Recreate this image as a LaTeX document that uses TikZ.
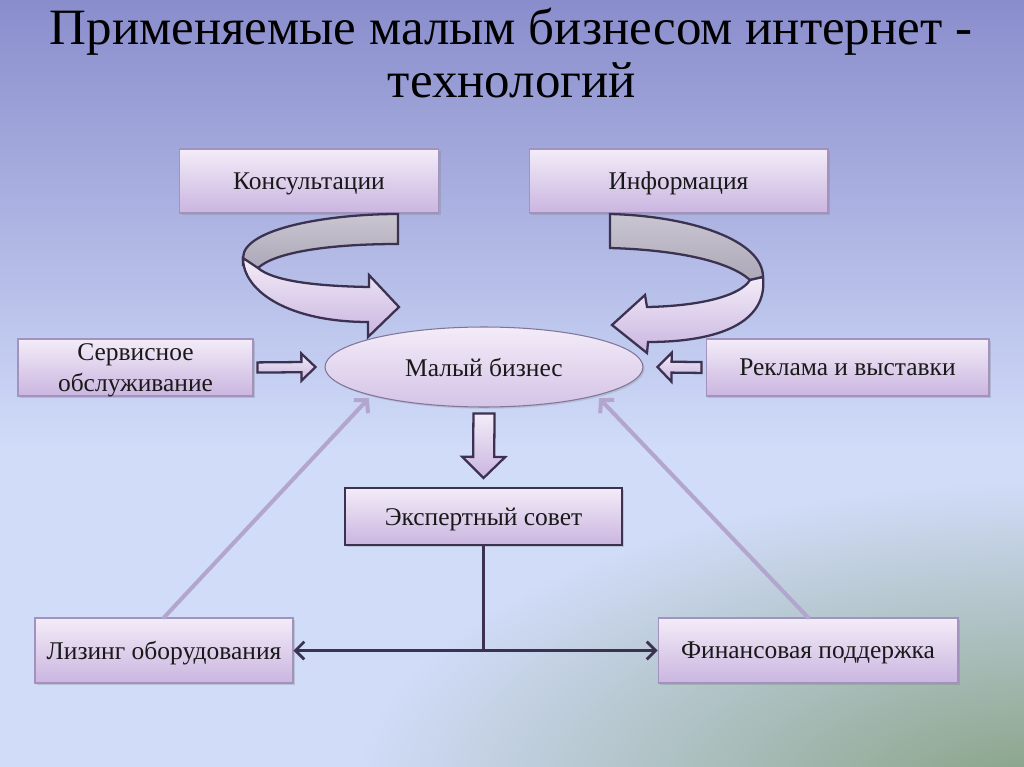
\documentclass[tikz,border=0pt]{standalone}
\usepackage{fontspec}
\setmainfont{Liberation Serif}
\usetikzlibrary{calc,shapes.geometric,shadows,arrows.meta}
\definecolor{bgtop}{HTML}{8A8DCC}
\definecolor{bgmid}{HTML}{D1DCF9}
\definecolor{bggreen}{HTML}{84A080}
\definecolor{boxtop}{HTML}{F3ECF8}
\definecolor{boxbot}{HTML}{CAB5E0}
\definecolor{boxline}{HTML}{A193BE}
\definecolor{darkline}{HTML}{3B3150}
\definecolor{liteline}{HTML}{B3A6CE}
\definecolor{ribgraytop}{HTML}{C9C5D1}
\definecolor{ribgraybot}{HTML}{ADA8B7}
\tikzset{
  x=0.02cm, y=-0.02cm,
  boxtext/.style={font=\fontsize{14.5}{17.5}\selectfont, text=black!90},
  box/.style={rectangle, top color=boxtop, bottom color=boxbot, draw=boxline,
    line width=0.6pt, inner sep=0pt, align=center, boxtext, text depth=0pt,
    drop shadow={opacity=0.3, shadow xshift=1.2pt, shadow yshift=-1.2pt}},
  darkbox/.style={box, draw=darkline, line width=1.1pt},
  oval/.style={ellipse, top color=boxtop, bottom color=boxbot!80!white, draw=boxline!80!black,
    line width=0.6pt, inner sep=0pt, boxtext, text depth=0pt,
    drop shadow={opacity=0.25, shadow xshift=1pt, shadow yshift=-1pt}},
  blk/.style={top color=boxtop, bottom color=boxbot, draw=darkline, line width=1.3pt, line join=miter},
  ribfront/.style={top color=boxtop, bottom color=boxbot, draw=darkline, line width=1.3pt, line join=miter},
  ribback/.style={top color=ribgraytop, bottom color=ribgraybot, draw=darkline, line width=1.3pt, line join=miter},
  lite/.style={draw=liteline, line width=2.3pt, line cap=round,
    -{Straight Barb[length=5pt,width=11pt]}, shorten >=2pt},
  darkconn/.style={draw=darkline, line width=1.6pt},
  titletext/.style={font=\fontsize{29}{34}\selectfont, text=black, anchor=base},
}
\newcommand\blockarrow[5]{%
  \coordinate (hb) at ($(#2)!#5!(#1)$);
  \draw[blk] ($(#1)!#3!90:(#2)$) -- ($(hb)!#3!90:(#2)$) -- ($(hb)!#4!90:(#2)$) -- (#2)
    -- ($(hb)!#4!-90:(#2)$) -- ($(hb)!#3!-90:(#2)$) -- ($(#1)!#3!-90:(#2)$) -- cycle;}
\begin{document}
\begin{tikzpicture}
\useasboundingbox (0,0) rectangle (1024,767);
% background
\begin{scope}
  \clip (0,0) rectangle (1024,767);
  \fill[bgmid] (0,0) rectangle (1024,767);
  \shade[top color=bgtop, bottom color=bgmid] (0,0) rectangle (1024,450);
  \shade[inner color=bggreen, outer color=bgmid] (1050,800) ellipse [x radius=700, y radius=320];
\end{scope}

% title
\node[titletext] (title1) at (511,45) {Применяемые малым бизнесом интернет -};
\node[titletext] (title2) at (512,98) {технологий};

% nodes
\node[box, minimum width=5.18cm, minimum height=1.28cm] (kons) at (309,181) {Консультации};
\node[box, minimum width=5.98cm, minimum height=1.28cm] (info) at (678.5,181) {Информация};
\node[box, minimum width=4.7cm, minimum height=1.14cm] (serv) at (135.5,367.5) {Сервисное\\обслуживание};
\node[box, minimum width=5.66cm, minimum height=1.14cm] (rekl) at (847.5,367.5) {Реклама и выставки};
\node[oval, minimum width=6.36cm, minimum height=1.6cm] (ell) at (484,367) {Малый бизнес};
\node[darkbox, minimum width=5.54cm, minimum height=1.14cm] (exp) at (483.5,516.5) {Экспертный совет};
\node[box, minimum width=5.16cm, minimum height=1.3cm] (lease) at (164,650.5) {Лизинг оборудования};
\node[box, minimum width=6.0cm, minimum height=1.3cm] (fin) at (808,650.5) {Финансовая поддержка};

% curved ribbon arrows
\draw[ribback] (398,214) .. controls (330,214) and (243,228) .. (243,258) -- (243,265) -- (258,268)
  .. controls (275,252) and (330,244) .. (398,244) -- cycle;
\draw[ribfront] (243,258) .. controls (243,292) and (290,322) .. (368,322) -- (368,337) -- (399,307)
  -- (369,275) -- (369,287) .. controls (310,286) and (272,280) .. (258,268) -- cycle;

\draw[ribback] (610,214) .. controls (690,216) and (763,240) .. (763,277) -- (750,280)
  .. controls (730,262) and (680,250) .. (610,248) -- cycle;
\draw[ribfront] (763,277) .. controls (768,322) and (720,342) .. (648,342) -- (647,353) -- (612,325)
  -- (645,295) -- (647,307) .. controls (700,306) and (740,296) .. (750,280) -- cycle;

% block arrows
\coordinate (a1s) at ($(serv.east)+(4,0)$);
\coordinate (a1e) at ($(ell.west)+(-9,0)$);
\blockarrow{a1s}{a1e}{2.9pt}{7.7pt}{8pt}
\coordinate (a2s) at ($(rekl.west)+(-4,0)$);
\coordinate (a2e) at ($(ell.east)+(14,0)$);
\blockarrow{a2s}{a2e}{3.1pt}{8.2pt}{8pt}
\coordinate (a3s) at ($(ell.south)+(0,6)$);
\coordinate (a3e) at ($(exp.north)+(0,-9)$);
\blockarrow{a3s}{a3e}{6pt}{12.2pt}{12pt}

% light connectors
\draw[lite] (lease.north) -- (ell.south west);
\draw[lite] (fin.north) -- (ell.south east);

% dark connectors
\draw[darkconn] (exp.south) -- (exp.south |- lease.east);
\draw[darkconn, {Straight Barb[length=5pt,width=10pt]}-{Straight Barb[length=5pt,width=10pt]}]
  (lease.east) -- (fin.west);
\end{tikzpicture}
\end{document}
